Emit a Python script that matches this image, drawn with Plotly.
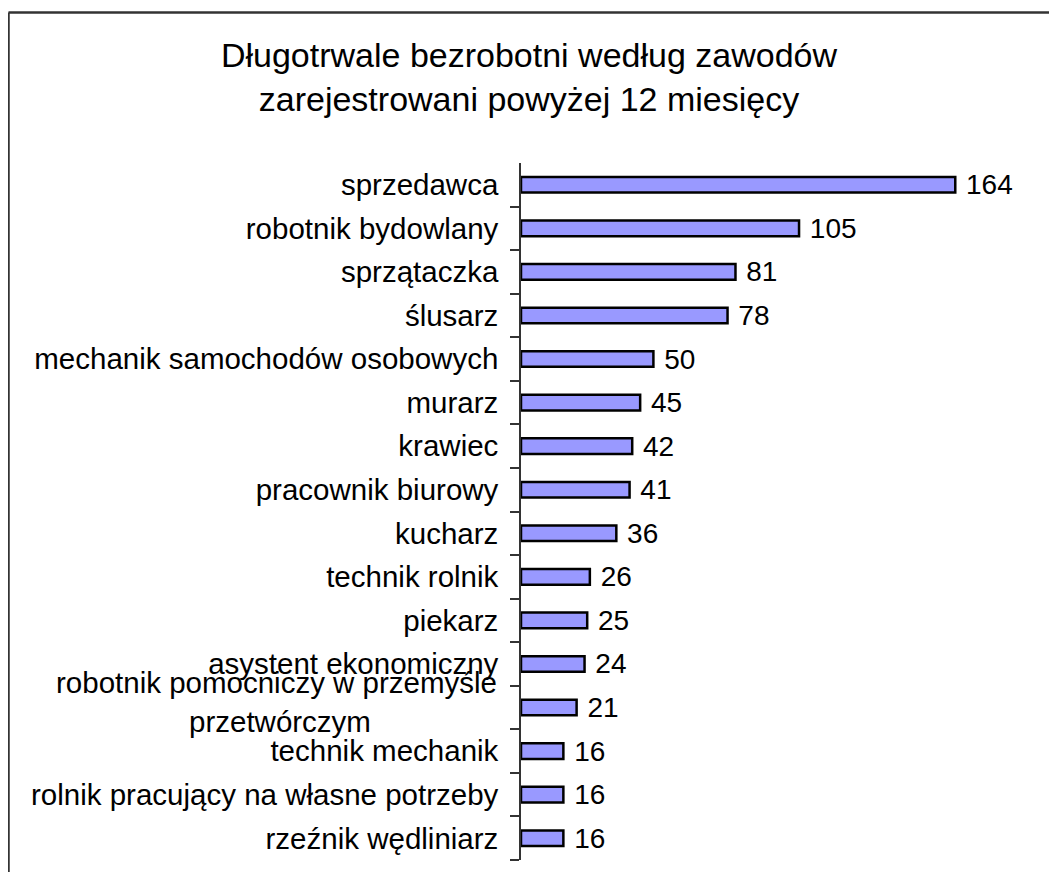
import plotly.graph_objects as go

title_lines = ["Długotrwale bezrobotni według zawodów", "zarejestrowani powyżej 12 miesięcy"]

categories = [
    "sprzedawca",
    "robotnik bydowlany",
    "sprzątaczka",
    "ślusarz",
    "mechanik samochodów osobowych",
    "murarz",
    "krawiec",
    "pracownik biurowy",
    "kucharz",
    "technik rolnik",
    "piekarz",
    "asystent ekonomiczny",
    "robotnik pomocniczy w przemyśle przetwórczym",
    "technik mechanik",
    "rolnik pracujący na własne potrzeby",
    "rzeźnik wędliniarz",
]
values = [164, 105, 81, 78, 50, 45, 42, 41, 36, 26, 25, 24, 21, 16, 16, 16]

# the one label that is wrapped oddly in the original
wrapped_category = "robotnik pomocniczy w przemyśle przetwórczym"
wrapped_lines = ["robotnik pomocniczy w przemyśle", "przetwórczym"]

tick_labels = ["" if c == wrapped_category else c for c in categories]

FONT = "Liberation Sans, Arial, sans-serif"

fig = go.Figure()
fig.add_trace(go.Bar(
    x=values,
    y=categories,
    orientation="h",
    width=0.36,
    marker=dict(color="#9999FF", line=dict(color="black", width=2.5)),
    text=values,
    texttemplate="\u00a0%{x}",
    textposition="outside",
    textfont=dict(family=FONT, size=28, color="black"),
    constraintext="none",
    cliponaxis=False,
    showlegend=False,
))

fig.update_layout(
    width=1057,
    height=872,
    autosize=False,
    margin=dict(l=513, r=25, t=155, b=20, pad=0),
    paper_bgcolor="white",
    plot_bgcolor="white",
    font=dict(family=FONT, color="black"),
    title=dict(
        text="<br>".join(title_lines),
        x=(529 - 8) / 1057,
        xref="container",
        xanchor="center",
        y=1 - 59 / 872,
        yref="container",
        yanchor="top",
        font=dict(family=FONT, size=34, color="black"),
    ),
    xaxis=dict(
        range=[0, 196],
        visible=False,
        showgrid=False,
        zeroline=False,
    ),
    yaxis=dict(
        type="category",
        categoryorder="array",
        categoryarray=categories[::-1],
        tickmode="array",
        tickvals=categories,
        ticktext=tick_labels,
        tickson="boundaries",
        ticks="outside",
        ticklen=9,
        tickwidth=1.5,
        tickcolor="#333333",
        ticklabelstandoff=15,
        showline=True,
        linecolor="#333333",
        linewidth=1.5,
        showgrid=False,
        zeroline=False,
        tickfont=dict(family=FONT, size=29.5, color="black"),
    ),
)

# wrapped label as two separate lines
fig.add_annotation(
    xref="paper", yref="y",
    x=0, y=wrapped_category,
    xanchor="right", yanchor="middle",
    xshift=-22, yshift=25,
    text=wrapped_lines[0],
    showarrow=False,
    font=dict(family=FONT, size=29.5, color="black"),
)
fig.add_annotation(
    xref="paper", yref="y",
    x=(187 - 521) / 519, y=wrapped_category,
    xanchor="left", yanchor="middle",
    yshift=-14,
    text=wrapped_lines[1],
    showarrow=False,
    font=dict(family=FONT, size=29.5, color="black"),
)

# outer frame (cropped on the right and bottom in the original): top and left edges
frame_left = (8.5 - 521) / 519
frame_top = 1 + (163 - 12.5) / 697
fig.add_shape(
    type="line", xref="paper", yref="paper",
    x0=frame_left, x1=1.1, y0=frame_top, y1=frame_top,
    line=dict(color="#333333", width=2.5), layer="above",
)
fig.add_shape(
    type="line", xref="paper", yref="paper",
    x0=frame_left, x1=frame_left, y0=-0.1, y1=frame_top,
    line=dict(color="#333333", width=2.5), layer="above",
)

fig.write_html("out.html")
